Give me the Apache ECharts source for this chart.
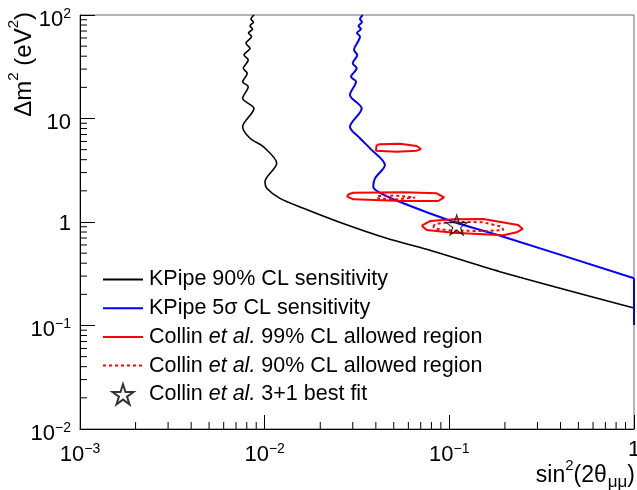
<!DOCTYPE html>
<html>
<head>
<meta charset="utf-8">
<script src="https://cdn.jsdelivr.net/npm/echarts@6/dist/echarts.min.js"></script>
<style>
html,body{margin:0;padding:0;background:#fff;}
#chart{width:637px;height:490px;}
</style>
</head>
<body>
<div id="chart"></div>
<script>
// ---- data ----
const xRange = [0.001, 1];
const yRange = [0.01, 100];

// KPipe 90% CL sensitivity [sin^2(2theta), dm^2]
const kpipe90 = [[0.00875,100],[0.00843,91.5],[0.0087,85.6],[0.00833,78.3],[0.0086,73.2],[0.00817,67.0],[0.00849,62.0],
  [0.00792,53.3],[0.00833,47.7],[0.00773,41.1],[0.00815,36.7],[0.00766,30.5],[0.00805,27.3],[0.0076,22.7],[0.00815,20.3],
  [0.0076,15.7],[0.00875,12.5],[0.0076,8.33],[0.00833,6.44],[0.00983,5.34],[0.01162,3.69],[0.01004,2.45],[0.01026,2.12],
  [0.0121,1.69],[0.0162,1.356],[0.025,1.007],[0.0458,0.696],[0.0754,0.545],[0.188,0.331],[1,0.1476]];

// KPipe 5 sigma sensitivity (curve, then the vertical piece at the right edge)
const kpipe5s = [[0.03395,100],[0.03282,91.5],[0.03365,85.6],[0.03222,78.3],[0.03323,73.2],[0.0316,67.0],[0.03282,62.0],
  [0.03047,45.9],[0.03173,41.1],[0.02998,34.2],[0.0315,30.5],[0.02934,25.3],[0.03124,22.7],[0.02897,16.9],[0.03353,12.5],
  [0.02897,8.33],[0.03282,6.44],[0.03719,5.15],[0.0448,3.55],[0.03957,2.64],[0.03874,2.19],[0.04124,1.96],[0.0563,1.516],
  [0.105,1.007],[0.196,0.721],[1,0.2858]];
const kpipe5sEdge = [[1,0.2858],[1,0.101]];

// Collin et al. 99% CL allowed islands
const collin99a = [[0.04042,5.55],[0.0421,5.63],[0.0541,5.71],[0.0666,5.42],[0.0702,5.07],[0.0666,4.89],[0.0519,4.78],[0.04006,4.89],[0.04042,5.55]];
const collin99b = [[0.02836,1.852],[0.0302,1.92],[0.0563,1.936],[0.0854,1.894],[0.0936,1.732],[0.0871,1.596],[0.0563,1.596],[0.0302,1.657],[0.028,1.756],[0.02836,1.852]];
const collin99c = [[0.0709,0.921],[0.0786,1.022],[0.105,1.062],[0.1527,1.069],[0.236,0.935],[0.2495,0.856],[0.2316,0.795],[0.196,0.744],[0.105,0.788],[0.0754,0.837],[0.0709,0.921]];
// Collin et al. 90% CL allowed islands
const collin90a = [[0.0412,1.783],[0.0508,1.803],[0.0652,1.724],[0.0508,1.65],[0.0412,1.687],[0.0412,1.783]];
const collin90b = [[0.0818,0.901],[0.0836,0.956],[0.105,1.007],[0.1527,0.993],[0.192,0.901],[0.196,0.837],[0.1594,0.818],[0.105,0.824],[0.0836,0.861],[0.0818,0.901]];
// best fit
const bestFit = [[0.1096,0.935]];

const seriesNames = [
  'KPipe 90% CL sensitivity',
  'KPipe 5\u03c3 CL sensitivity',
  'Collin et al. 99% CL allowed region',
  'Collin et al. 90% CL allowed region',
  'Collin et al. 3+1 best fit'
];

// minor tick positions (2..9 within each decade)
const minorMult = [2,3,4,5,6,7,8,9];
const xDecades = [0.001, 0.01, 0.1];
const yDecades = [0.01, 0.1, 1, 10];

// ---- styling ----
const FONT = '"Liberation Sans", Arial, Helvetica, sans-serif';
const xMinor = [];
xDecades.forEach(d => minorMult.forEach(m => xMinor.push([m * d, yRange[0]])));
const yMinor = [];
yDecades.forEach(d => minorMult.forEach(m => yMinor.push([xRange[0], m * d])));

function starPath() {
  let s = 'path://';
  for (let i = 0; i < 10; i++) {
    const r = i % 2 ? 0.382 : 1;
    const a = -Math.PI / 2 + i * Math.PI / 5;
    s += (i ? 'L' : 'M') + (r * Math.cos(a)).toFixed(4) + ',' + (r * Math.sin(a)).toFixed(4) + ' ';
  }
  return s + 'Z';
}

function expLabel(v) {
  const e = Math.round(Math.log10(v));
  if (e === 0) return '{c|1}';
  if (e === 1) return '{b|10}';
  return '{b|10}{s|' + (e < 0 ? '\u2212' + (-e) : String(e)) + '}';
}
const labelRich = {
  b: {fontSize: 22, fontFamily: FONT, color: '#000', padding: [9, 0, 0, 0]},
  c: {fontSize: 22, fontFamily: FONT, color: '#000', padding: [4, 0, 0, 0]},
  s: {fontSize: 14, fontFamily: FONT, color: '#000', padding: [0, 0, 2, 0]}
};

const chart = echarts.init(document.getElementById('chart'), null, {renderer: 'canvas'});

function lineSeries(name, data, color, width, type, smooth) {
  return {
    name: name, type: 'line', data: data, color: color,
    showSymbol: false, symbol: 'none', smooth: smooth || false, silent: true,
    lineStyle: {color: color, width: width, type: type || 'solid'},
    animation: false, z: 3
  };
}

const hideSymbol = {opacity: 0};

const option = {
  animation: false,
  backgroundColor: '#fff',
  grid: {left: 80, right: 3, top: 15, bottom: 61, show: true, borderColor: '#666', borderWidth: 1,
         containLabel: false, outerBoundsMode: 'none'},
  xAxis: {
    type: 'log', logBase: 10, min: xRange[0], max: xRange[1], splitNumber: 3,
    axisLine: {show: true, lineStyle: {color: '#000', width: 1}},
    axisTick: {show: true, inside: true, length: 14, lineStyle: {color: '#000', width: 1}},
    minorTick: {show: false}, splitLine: {show: false},
    axisLabel: {show: true, margin: 6, hideOverlap: false, showMinLabel: true, showMaxLabel: true,
      formatter: expLabel, rich: labelRich, color: '#000'}
  },
  yAxis: {
    type: 'log', logBase: 10, min: yRange[0], max: yRange[1], splitNumber: 4,
    axisLine: {show: true, lineStyle: {color: '#000', width: 1}},
    axisTick: {show: true, inside: true, length: 15, lineStyle: {color: '#000', width: 1}},
    minorTick: {show: false}, splitLine: {show: false},
    axisLabel: {show: true, margin: 9, hideOverlap: false, showMinLabel: true, showMaxLabel: true,
      formatter: expLabel, rich: labelRich, color: '#000'}
  },
  legend: {
    orient: 'vertical', left: 102, top: 268.5, padding: 0, itemGap: 6.7,
    itemWidth: 40, itemHeight: 20, selectedMode: false,
    data: [
      {name: seriesNames[0], itemStyle: hideSymbol},
      {name: seriesNames[1], itemStyle: hideSymbol},
      {name: seriesNames[2], itemStyle: hideSymbol},
      {name: seriesNames[3], itemStyle: hideSymbol},
      {name: seriesNames[4]}
    ],
    formatter: name => name.replace('et al.', '{i|et al.}'),
    textStyle: {fontSize: 21.5, fontFamily: FONT, color: '#000', lineHeight: 22, padding: [0, 0, 0, 1],
      rich: {i: {fontSize: 21.5, fontFamily: FONT, fontStyle: 'italic', color: '#000', lineHeight: 22}}}
  },
  graphic: [
    {type: 'text', x: 635, y: 476, z: 10, silent: true,
     style: {text: 'sin{s|2}(2\u03b8{u|\u03bc\u03bc})', fontSize: 23, fontFamily: FONT, fill: '#000',
       align: 'right', verticalAlign: 'middle', textAlign: 'right', textVerticalAlign: 'middle',
       rich: {s: {fontSize: 15, fontFamily: FONT, fill: '#000', padding: [0, 0, 20, 0]},
              u: {fontSize: 17, fontFamily: FONT, fill: '#000', padding: [12, 0, 0, 1]}}}},
    {type: 'text', x: 24, y: 12, rotation: Math.PI / 2, z: 10, silent: true,
     style: {text: '\u0394m{s|2} (eV{s|2})', fontSize: 24, fontFamily: FONT, fill: '#000',
       align: 'right', verticalAlign: 'middle', textAlign: 'right', textVerticalAlign: 'middle',
       rich: {s: {fontSize: 15, fontFamily: FONT, fill: '#000', padding: [0, 0, 20, 0]}}}}
  ],
  series: [
    lineSeries(seriesNames[0], kpipe90, '#000000', 1.6, 'solid', 0.3),
    lineSeries(seriesNames[1], kpipe5s, '#0000ff', 2, 'solid', 0.3),
    lineSeries(seriesNames[1], kpipe5sEdge, '#0000ff', 2),
    lineSeries(seriesNames[2], collin99a, '#ff0000', 2),
    lineSeries(seriesNames[2], collin99b, '#ff0000', 2),
    lineSeries(seriesNames[2], collin99c, '#ff0000', 2),
    lineSeries(seriesNames[3], collin90a, '#ff0000', 2, [3, 3]),
    lineSeries(seriesNames[3], collin90b, '#ff0000', 2, [3, 3]),
    {
      name: seriesNames[4], type: 'scatter', data: bestFit, symbol: starPath(), symbolSize: 21,
      symbolKeepAspect: true, silent: true, z: 5,
      itemStyle: {color: 'rgba(0,0,0,0)', borderColor: '#000', borderWidth: 1.2}
    },
    {
      type: 'custom', data: xMinor, silent: true, clip: false, z: 4,
      encode: {x: 0, y: 1},
      renderItem: (params, api) => {
        const p = api.coord([api.value(0), api.value(1)]);
        return {type: 'line', shape: {x1: p[0], y1: p[1], x2: p[0], y2: p[1] - 7},
                style: {stroke: '#000', lineWidth: 1}};
      }
    },
    {
      type: 'custom', data: yMinor, silent: true, clip: false, z: 4,
      encode: {x: 0, y: 1},
      renderItem: (params, api) => {
        const p = api.coord([api.value(0), api.value(1)]);
        return {type: 'line', shape: {x1: p[0], y1: p[1], x2: p[0] + 7, y2: p[1]},
                style: {stroke: '#000', lineWidth: 1}};
      }
    }
  ]
};
chart.setOption(option);
</script>
</body>
</html>
